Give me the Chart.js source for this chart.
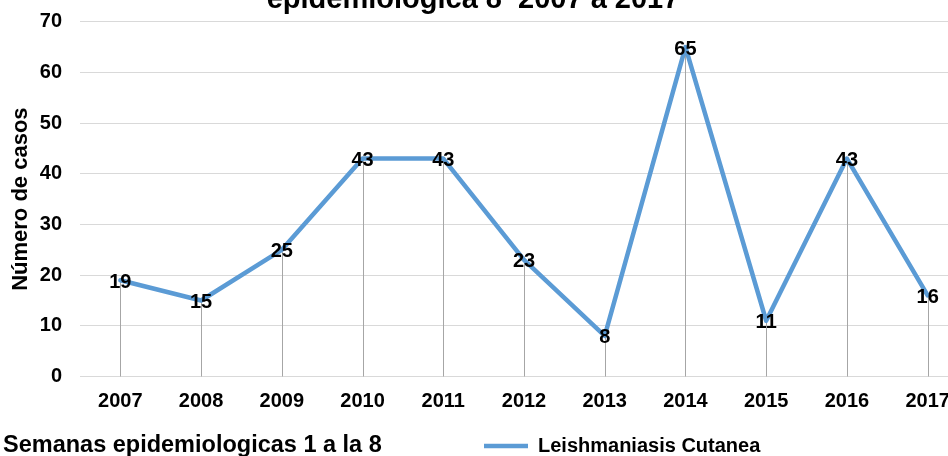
<!DOCTYPE html>
<html lang="es">
<head>
    <meta charset="UTF-8">
    <title>Leishmaniasis Cutanea 2007 a 2017</title>
    <script src="https://cdn.jsdelivr.net/npm/chart.js"></script>
    <style>
        html, body { margin: 0; padding: 0; background: #fff; overflow: hidden; }
        /* the original picture is a crop of a larger chart */
        #frame { position: relative; width: 948px; height: 456px; overflow: hidden; }
        #casosChart { position: absolute; left: 0; top: -20px; }
    </style>
</head>
<body>
    <div id="frame">
        <canvas id="casosChart" width="970" height="486"></canvas>
    </div>
    <script>
        // datos de la grafica
        const years = ['2007', '2008', '2009', '2010', '2011', '2012', '2013', '2014', '2015', '2016', '2017'];
        const casos = [19, 15, 25, 43, 43, 23, 8, 65, 11, 43, 16];
        const seriesName = 'Leishmaniasis Cutanea';
        const yMax = 70;
        const yStep = 10;
        const titleText = 'epidemiologica 8  2007 a 2017';
        const yTitle = 'Número de casos';
        const noteText = 'Semanas epidemiologicas 1 a la 8';

        const lineColor = '#5b9bd5';
        const fontFamily = '"Liberation Sans", Arial, sans-serif';

        Chart.defaults.font.family = fontFamily;
        Chart.defaults.font.weight = 'bold';
        Chart.defaults.color = '#000';

        // drop lines, value labels, note text and legend offset
        const extras = {
            id: 'extras',
            beforeDraw(chart) {
                const legend = chart.legend;
                legend.left = 484 - legend.options.labels.padding;
            },
            beforeDatasetsDraw(chart) {
                const ctx = chart.ctx;
                const y0 = chart.scales.y.getPixelForValue(0);
                ctx.save();
                ctx.strokeStyle = '#a6a6a6';
                ctx.lineWidth = 1;
                chart.getDatasetMeta(0).data.forEach(pt => {
                    const x = Math.round(pt.x) + 0.5;
                    ctx.beginPath();
                    ctx.moveTo(x, pt.y);
                    ctx.lineTo(x, y0);
                    ctx.stroke();
                });
                ctx.restore();
            },
            afterDatasetsDraw(chart) {
                const ctx = chart.ctx;
                ctx.save();
                ctx.font = 'bold 20px ' + fontFamily;
                ctx.fillStyle = '#000';
                ctx.textAlign = 'center';
                ctx.textBaseline = 'middle';
                chart.getDatasetMeta(0).data.forEach((pt, i) => {
                    ctx.fillText(String(casos[i]), pt.x, pt.y + 2);
                });
                ctx.restore();
            },
            afterDraw(chart) {
                const ctx = chart.ctx;
                const box = chart.legend.legendHitBoxes[0];
                const cy = box.top + box.height / 2;
                ctx.save();
                ctx.font = 'bold 23.5px ' + fontFamily;
                ctx.fillStyle = '#000';
                ctx.textAlign = 'left';
                ctx.textBaseline = 'middle';
                ctx.fillText(noteText, 3, cy);
                ctx.restore();
            }
        };

        const ctx = document.getElementById('casosChart').getContext('2d');
        new Chart(ctx, {
            type: 'line',
            data: {
                labels: years,
                datasets: [{
                    label: seriesName,
                    data: casos,
                    borderColor: lineColor,
                    backgroundColor: lineColor,
                    borderWidth: 4.5,
                    borderJoinStyle: 'round',
                    borderCapStyle: 'round',
                    pointRadius: 0,
                    tension: 0,
                    fill: false
                }]
            },
            options: {
                responsive: false,
                animation: false,
                layout: {
                    padding: { top: 0, right: 2, bottom: 0, left: -22 }
                },
                plugins: {
                    title: {
                        display: true,
                        text: titleText,
                        font: { size: 29, weight: 'bold' },
                        color: '#000',
                        padding: { top: 3, bottom: 4 }
                    },
                    legend: {
                        position: 'bottom',
                        align: 'start',
                        labels: {
                            usePointStyle: true,
                            pointStyle: 'line',
                            pointStyleWidth: 44,
                            font: { size: 20, weight: 'bold' },
                            color: '#000',
                            padding: 10
                        }
                    },
                    tooltip: { enabled: false }
                },
                scales: {
                    x: {
                        offset: true,
                        grid: { display: false },
                        border: { display: false },
                        ticks: {
                            font: { size: 20, weight: 'bold' },
                            color: '#000',
                            padding: 5,
                            maxRotation: 0
                        },
                        afterFit(scale) { scale.height = 49.5; }
                    },
                    y: {
                        min: 0,
                        max: yMax,
                        grid: { color: '#d9d9d9', lineWidth: 1, drawTicks: false },
                        border: { display: false },
                        ticks: {
                            stepSize: yStep,
                            font: { size: 20, weight: 'bold' },
                            color: '#000',
                            padding: 18
                        },
                        title: {
                            display: true,
                            text: yTitle,
                            font: { size: 22, weight: 'bold' },
                            color: '#000',
                            padding: { top: 30, bottom: 0 }
                        },
                        afterFit(scale) { scale.width = 102; }
                    }
                }
            },
            plugins: [extras]
        });
    </script>
</body>
</html>
